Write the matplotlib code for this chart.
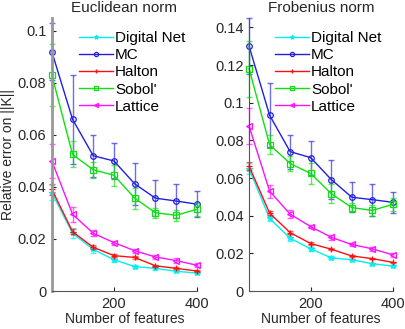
import numpy as np
import matplotlib.pyplot as plt
from matplotlib.lines import Line2D

plt.rcParams['font.family'] = ['Liberation Sans', 'DejaVu Sans']

features = [50, 100, 150, 200, 250, 300, 350, 400]
names = ['Digital Net', 'MC', 'Halton', "Sobol'", 'Lattice']
colors = ['#00f0f0', '#2020e0', '#ff1010', '#10e010', '#ff10ff']
markers = ['*', 'o', '+', 's', '<']

# Euclidean norm
euc_dn = [0.0378, 0.0222, 0.0160, 0.0120, 0.0094, 0.0087, 0.0076, 0.0069]
euc_mc = [0.092, 0.066, 0.052, 0.050, 0.0412, 0.0357, 0.0346, 0.0334]
euc_ha = [0.0391, 0.0228, 0.0168, 0.0136, 0.0129, 0.0097, 0.0087, 0.0077]
euc_so = [0.083, 0.0525, 0.0466, 0.0445, 0.0357, 0.0301, 0.0291, 0.0314]
euc_la = [0.050, 0.0295, 0.0222, 0.0186, 0.0155, 0.0131, 0.0117, 0.0099]
euc_dn_err = [0.003, 0.002, 0.0012, 0.0008, 0.0005, 0.0005, 0.0004, 0.0004]
euc_mc_err = [0.011, 0.017, 0.008, 0.007, 0.008, 0.007, 0.0065, 0.005]
euc_ha_err = [0.002, 0.001, 0.0008, 0.0005, 0.0005, 0.0004, 0.0004, 0.0003]
euc_so_err = [0.012, 0.005, 0.003, 0.004, 0.004, 0.002, 0.002, 0.0025]
euc_la_err = [0.0065, 0.0028, 0.0012, 0.0008, 0.0008, 0.0007, 0.0008, 0.0008]

# Frobenius norm
fro_dn = [0.065, 0.0385, 0.0280, 0.0224, 0.0176, 0.0166, 0.0145, 0.0132]
fro_mc = [0.130, 0.0933, 0.074, 0.0708, 0.0592, 0.0498, 0.0485, 0.0471]
fro_ha = [0.0663, 0.0413, 0.0310, 0.0252, 0.0222, 0.0186, 0.0172, 0.0152]
fro_so = [0.118, 0.0777, 0.0677, 0.0624, 0.0517, 0.0443, 0.0428, 0.0460]
fro_la = [0.0876, 0.053, 0.0408, 0.0342, 0.0285, 0.0247, 0.0224, 0.0192]
fro_dn_err = [0.003, 0.0015, 0.0015, 0.001, 0.0008, 0.0006, 0.0006, 0.0006]
fro_mc_err = [0.015, 0.017, 0.009, 0.009, 0.0105, 0.008, 0.0085, 0.0055]
fro_ha_err = [0.002, 0.001, 0.0008, 0.0006, 0.0005, 0.0005, 0.0004, 0.0004]
fro_so_err = [0.015, 0.005, 0.004, 0.0055, 0.005, 0.0025, 0.003, 0.0035]
fro_la_err = [0.0095, 0.0035, 0.002, 0.001, 0.0015, 0.001, 0.0012, 0.001]

euc = [euc_dn, euc_mc, euc_ha, euc_so, euc_la]
euc_err = [euc_dn_err, euc_mc_err, euc_ha_err, euc_so_err, euc_la_err]
fro = [fro_dn, fro_mc, fro_ha, fro_so, fro_la]
fro_err = [fro_dn_err, fro_mc_err, fro_ha_err, fro_so_err, fro_la_err]

fig = plt.figure(figsize=(4.05, 3.29), dpi=100)
ax1 = fig.add_axes([0.128, 0.1155, 0.358, 0.83])
ax2 = fig.add_axes([0.615, 0.1155, 0.355, 0.83])

text_col = '#262626'

def draw(ax, vals, errs, title, ymax, yticks, ylabels):
    handles = []
    for v, e, n, c, m in zip(vals, errs, names, colors, markers):
        # error bars a bit lighter than the line
        ax.errorbar(features, v, yerr=e, fmt='none', ecolor=c, alpha=0.65,
                    elinewidth=1, capsize=2, clip_on=False)
        ax.plot(features, v, color=c, marker=m, markersize=4,
                markerfacecolor='none', markeredgewidth=0.9, linewidth=1,
                clip_on=False)
        handles.append(Line2D([], [], color=c, marker=m, markersize=3,
                              markerfacecolor='none', markeredgewidth=0.9,
                              linewidth=1, label=n))
    ax.set_xlim(50, 400)
    ax.set_ylim(0, ymax)
    ax.set_xticks([200, 400])
    ax.set_yticks(yticks)
    ax.set_yticklabels(ylabels)
    ax.tick_params(direction='in', length=3, labelsize=10.5, colors=text_col, pad=4)
    for s in ['top', 'right']:
        ax.spines[s].set_visible(False)
    for s in ['left', 'bottom']:
        ax.spines[s].set_color('#555555')
    ax.set_title(title, fontsize=11, color=text_col, pad=4)
    ax.set_xlabel('Number of features', fontsize=10, color=text_col, labelpad=1)
    ax.legend(handles=handles, loc='upper right', frameon=False, fontsize=11,
              handlelength=2.2, handletextpad=0.15, labelspacing=0.2,
              borderaxespad=0.3, bbox_to_anchor=(0.995, 0.99))

draw(ax1, euc, euc_err, 'Euclidean norm', 0.105,
     [0, 0.02, 0.04, 0.06, 0.08, 0.1], ['0', '0.02', '0.04', '0.06', '0.08', '0.1'])
draw(ax2, fro, fro_err, 'Frobenius norm', 0.145,
     [0, 0.02, 0.04, 0.06, 0.08, 0.1, 0.12, 0.14],
     ['0', '0.02', '0.04', '0.06', '0.08', '0.1', '0.12', '0.14'])
ax1.set_ylabel('Relative error on ||K||', fontsize=10, color=text_col, labelpad=2)
ax1.spines['left'].set_color('#999999')
ax1.spines['left'].set_linewidth(2)

fig.savefig('out.png', dpi=100)
